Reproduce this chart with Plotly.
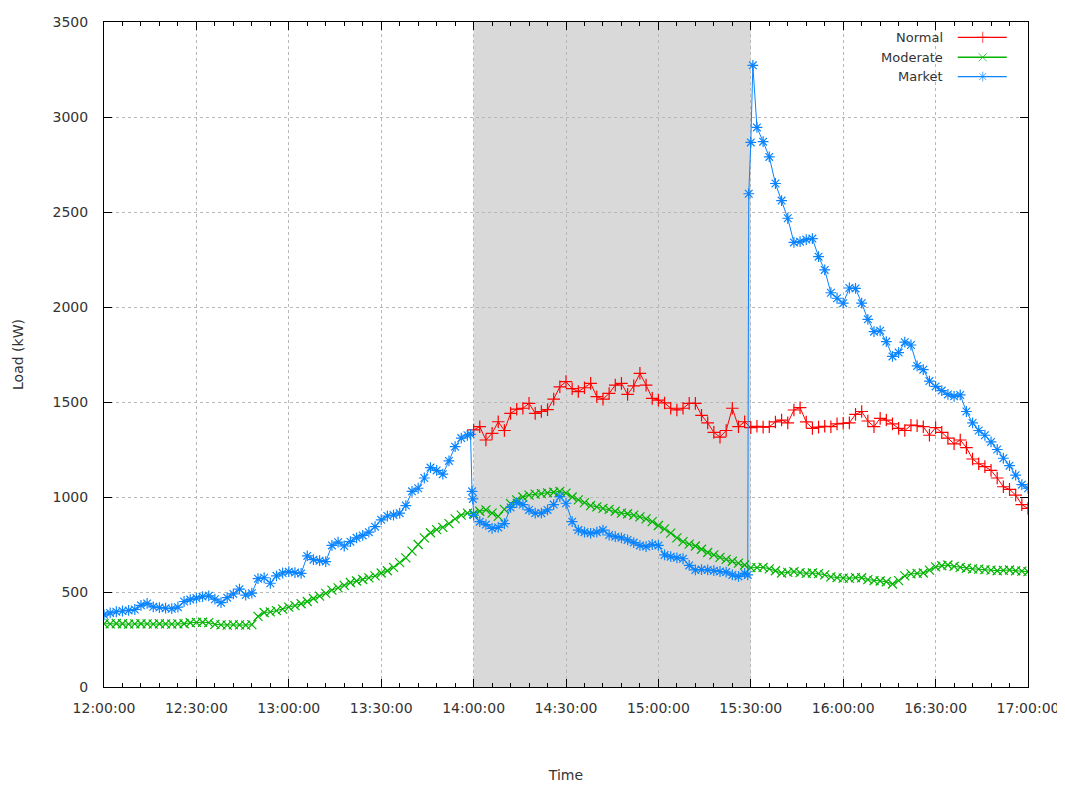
import pandas as pd
import plotly.graph_objects as go

# ---------------- data (kW), 2-minute samples ----------------
moderate_start = "2000-01-01 12:00"
moderate_kw = [
    333, 332, 334, 333, 331, 332, 333, 332, 331, 333, 332, 331, 332, 333, 338,
    340, 341, 339, 330, 327, 326, 328, 327, 326, 328, 372, 392, 395, 402, 410,
    420, 428, 438, 450, 466, 478, 493, 510, 522, 535, 550, 558, 566, 574, 585,
    600, 612, 630, 655, 680, 715, 750, 785, 812, 828, 840, 860, 885, 905, 915,
    912, 925, 932, 915, 898, 935, 965, 985, 1000, 1010, 1015, 1018, 1022, 1025, 1030,
    1020, 1000, 985, 970, 955, 948, 940, 935, 925, 915, 912, 905, 895, 885, 870,
    850, 832, 810, 785, 765, 752, 742, 725, 708, 695, 682, 672, 662, 652, 642,
    628, 628, 630, 622, 612, 600, 603, 607, 602, 598, 600, 597, 590, 580, 576,
    573, 572, 576, 575, 565, 560, 558, 554, 542, 560, 585, 595, 598, 600, 615,
    632, 638, 642, 635, 630, 625, 622, 620, 618, 615, 612, 614, 616, 612, 610,
    607,
]

market_start = "2000-01-01 12:00"
market_kw = [
    380, 390, 396, 400, 403, 408, 430, 440, 422, 418, 415, 412, 420, 450, 460,
    468, 476, 480, 462, 444, 470, 490, 515, 484, 494, 570, 575, 546, 585, 600,
    607, 602, 598, 690, 670, 665, 660, 745, 762, 742, 765, 785, 798, 815, 844,
    880, 900, 905, 915, 955, 1030, 1046, 1100, 1155, 1140, 1120, 1190, 1265, 1310, 1325,
    905, 870, 855, 835, 840, 860, 945, 970, 960, 932, 915, 915, 932, 960, 1002,
    967, 870, 826, 815, 809, 815, 826, 800, 791, 785, 774, 760, 745, 739, 750,
    745, 695, 686, 680, 675, 640, 616, 618, 616, 612, 608, 605, 590, 582, 598,
    2866, 2945, 2870, 2790, 2650, 2560, 2467, 2340, 2344, 2355, 2360, 2265, 2195, 2075, 2046,
    2020, 2100, 2098, 2020, 1935, 1870, 1875, 1818, 1740, 1760, 1815, 1800, 1690, 1670, 1610,
    1582, 1560, 1540, 1530, 1537, 1450, 1390, 1350, 1325, 1290, 1250, 1204, 1165, 1115, 1065,
    1046,
]
# extra Market samples around the two switching instants
market_extra_times = ["13:59:00", "13:59:30", "13:59:45", "15:29:00", "15:29:20", "15:30:40"]
market_extra_kw = [1330, 1030, 990, 590, 2596, 3272]

normal_start = "2000-01-01 14:00"
normal_kw = [
    1353, 1370, 1300, 1335, 1396, 1350, 1440, 1462, 1467, 1493, 1440, 1450, 1460, 1515, 1580,
    1607, 1570, 1555, 1575, 1598, 1528, 1515, 1545, 1589, 1598, 1540, 1585, 1651, 1589, 1519,
    1510, 1495, 1467, 1458, 1467, 1493, 1493, 1430, 1390, 1340, 1315, 1350, 1467, 1370, 1396,
    1365, 1372, 1368, 1370, 1395, 1405, 1390, 1458, 1470, 1395, 1361, 1368, 1372, 1370, 1385,
    1388, 1390, 1435, 1450, 1400, 1370, 1414, 1405, 1385, 1361, 1350, 1378, 1375, 1370, 1325,
    1365, 1340, 1310, 1280, 1300, 1260, 1200, 1175, 1160, 1140, 1100, 1054, 1040, 1010, 960,
    940,
]

event_window = ["2000-01-01 14:00", "2000-01-01 15:30"]
x_range = ["2000-01-01 12:00", "2000-01-01 17:00"]
series_names = ["Normal", "Moderate", "Market"]
series_colors = ["#ff0000", "#00b400", "#0a84ff"]
series_symbols = ["cross-thin", "x-thin", "asterisk-open"]

# ---------------- build series ----------------
t_mod = pd.date_range(moderate_start, periods=len(moderate_kw), freq="2min")
t_nor = pd.date_range(normal_start, periods=len(normal_kw), freq="2min")
t_mkt = pd.date_range(market_start, periods=len(market_kw), freq="2min")
mkt = pd.Series(market_kw, index=t_mkt)
extra = pd.Series(market_extra_kw,
                  index=pd.to_datetime(["2000-01-01 " + t for t in market_extra_times]))
mkt = pd.concat([mkt, extra]).sort_index()

series = [
    (t_nor, normal_kw),
    (t_mod, moderate_kw),
    (mkt.index, mkt.values),
]

fig = go.Figure()
for (tx, vy), name, col, sym in zip(series, series_names, series_colors, series_symbols):
    fig.add_trace(go.Scatter(
        x=tx, y=vy, name=name, mode="lines+markers",
        line=dict(color=col, width=1),
        marker=dict(symbol=sym, size=9, color=col, line=dict(color=col, width=1.2)),
        showlegend=False,
    ))

# custom gnuplot-like key (text on the left, sample on the right)
key_y = [0.977, 0.947, 0.918]
for name, col, sym, ky in zip(series_names, series_colors, series_symbols, key_y):
    fig.add_trace(go.Scatter(
        x=[0.924, 0.951, 0.977], y=[ky, ky, ky], xaxis="x2", yaxis="y2",
        mode="lines+markers", line=dict(color=col, width=1.3),
        marker=dict(symbol=sym, size=[0, 8, 0], color=col, line=dict(color=col, width=1)),
        showlegend=False, hoverinfo="skip",
    ))
    fig.add_annotation(x=0.91, y=ky, xref="x2", yref="y2", text=name,
                       showarrow=False, xanchor="right", yanchor="middle",
                       font=dict(family="DejaVu Sans", size=13, color="#333333"))

fig.add_shape(type="rect", xref="x", yref="paper",
              x0=event_window[0], x1=event_window[1], y0=0, y1=1,
              fillcolor="#d9d9d9", line=dict(width=0), layer="below")

# the page body adds an 8px offset; margins compensate for it
axis_font = dict(family="DejaVu Sans", size=14, color="#333333")
fig.update_layout(
    width=1065, height=785,
    margin=dict(l=96, r=45, t=14, b=106, autoexpand=False),
    paper_bgcolor="white", plot_bgcolor="white",
    font=axis_font,
    xaxis=dict(
        type="date", range=x_range, automargin=False,
        tick0="2000-01-01 12:00", dtick=1800000, tickformat="%H:%M:%S",
        ticks="inside", ticklen=8, tickcolor="black", tickwidth=1,
        showline=True, linecolor="black", linewidth=1, mirror="allticks",
        showgrid=True, gridcolor="#b8b8b8", griddash="dot", gridwidth=1,
        zeroline=False, ticklabelstandoff=8,
        minor=dict(dtick=360000, ticks="inside", ticklen=4, tickcolor="black",
                   showgrid=False),
        title=dict(text="Time", font=axis_font, standoff=55),
    ),
    yaxis=dict(
        range=[0, 3500], dtick=500, tick0=0, automargin=False,
        ticks="inside", ticklen=8, tickcolor="black", tickwidth=1,
        showline=True, linecolor="black", linewidth=1, mirror="allticks",
        showgrid=True, gridcolor="#b8b8b8", griddash="dot", gridwidth=1,
        zeroline=False, ticklabelstandoff=12,
        title=dict(text="Load (kW)", font=axis_font, standoff=25),
    ),
    xaxis2=dict(overlaying="x", range=[0, 1], visible=False),
    yaxis2=dict(overlaying="y", range=[0, 1], visible=False),
)

fig.write_html("out.html")
